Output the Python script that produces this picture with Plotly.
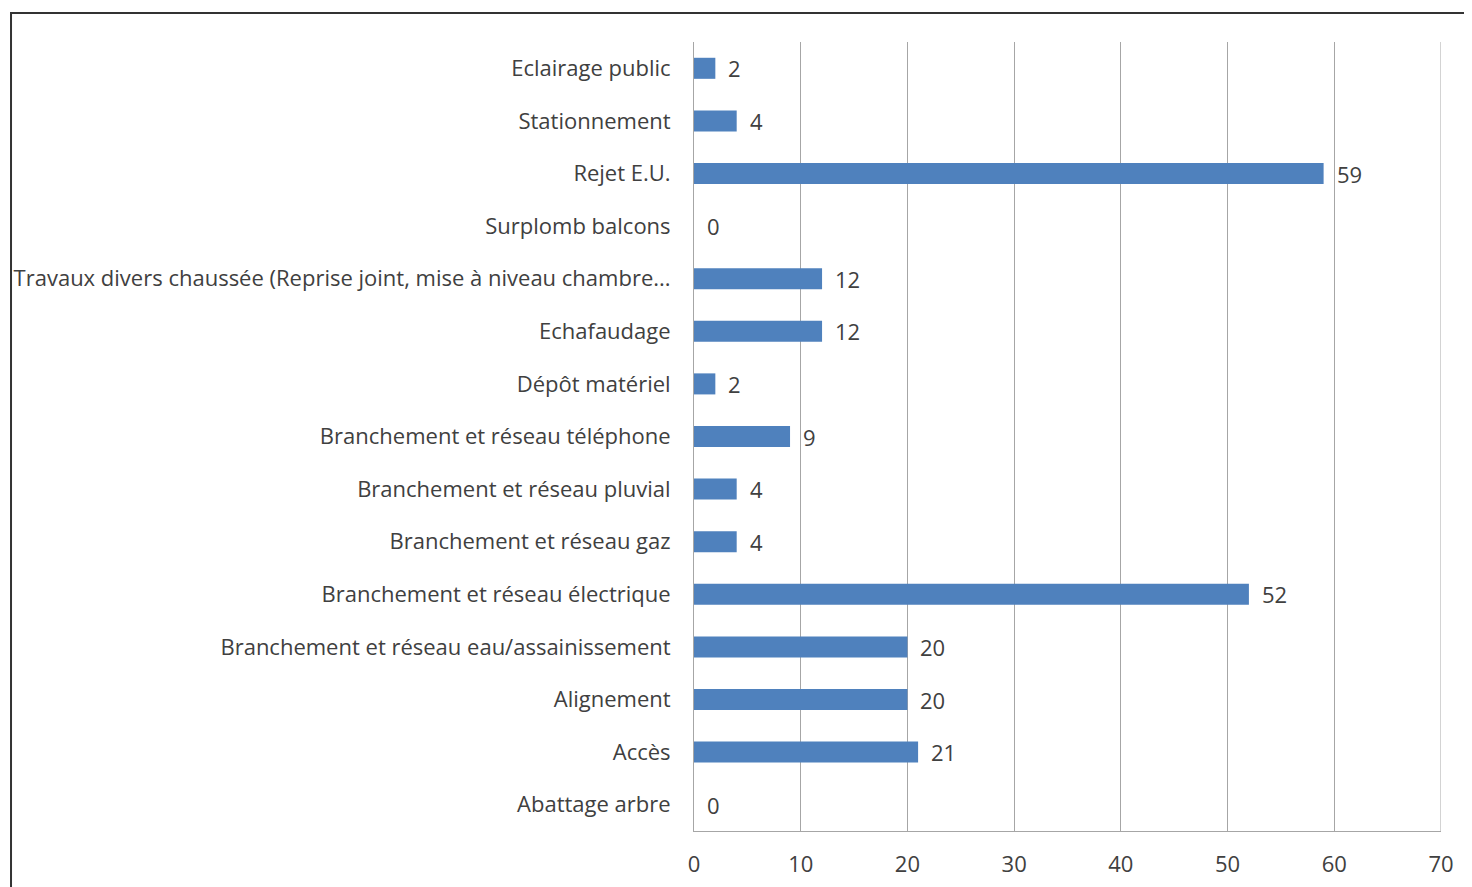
import plotly.graph_objects as go

# catégories de bas en haut (ordre de l'axe y)
categories = [
    "Abattage arbre",
    "Accès",
    "Alignement",
    "Branchement et réseau eau/assainissement",
    "Branchement et réseau électrique",
    "Branchement et réseau gaz",
    "Branchement et réseau pluvial",
    "Branchement et réseau téléphone",
    "Dépôt matériel",
    "Echafaudage",
    "Travaux divers chaussée (Reprise joint, mise à niveau chambre...",
    "Surplomb balcons",
    "Rejet E.U.",
    "Stationnement",
    "Eclairage public",
]
values = [0, 21, 20, 20, 52, 4, 4, 9, 2, 12, 12, 0, 59, 4, 2]
x_ticks = [0, 10, 20, 30, 40, 50, 60, 70]
x_max = 70

FONT = "'Open Sans', Lato, sans-serif"
TEXT = "#404040"
GRID = "#a6a6a6"

fig = go.Figure(
    go.Bar(
        x=values,
        y=categories,
        orientation="h",
        marker=dict(color="#4f81bd", line=dict(width=0)),
        hoverinfo="x+y",
    )
)

# étiquettes de valeur, décalées à droite de la barre
for cat, v in zip(categories, values):
    fig.add_annotation(
        x=v, y=cat, text=str(v),
        xref="x", yref="y",
        showarrow=False, xanchor="left", xshift=11,
        font=dict(family=FONT, size=22, color=TEXT),
    )

fig.update_xaxes(
    range=[0, x_max],
    tickvals=x_ticks,
    showgrid=True,
    gridcolor=GRID,
    gridwidth=1,
    showline=True,
    linecolor=GRID,
    linewidth=1,
    zeroline=False,
    ticks="",
    automargin=False,
    ticklabelstandoff=14,
    tickfont=dict(family=FONT, size=22, color=TEXT),
)
fig.update_yaxes(
    type="category",
    categoryorder="array",
    categoryarray=categories,
    showgrid=False,
    showline=True,
    linecolor=GRID,
    linewidth=1,
    ticks="",
    automargin=False,
    ticklabelstandoff=18,
    tickfont=dict(family=FONT, size=22, color=TEXT),
)

# dernière ligne de grille (bord droit à 70)
fig.add_shape(
    type="line", xref="x", yref="paper",
    x0=x_max, x1=x_max, y0=0, y1=1,
    line=dict(color=GRID, width=1),
)

# cadre du graphique (coordonnées relatives à la zone de tracé)
fig.add_shape(
    type="rect",
    xref="paper", yref="paper",
    x0=-0.9143, x1=1.06, y0=-0.09, y1=1.0368,
    line=dict(color="#333333", width=2),
    fillcolor="rgba(0,0,0,0)",
    layer="below",
)

fig.update_layout(
    width=1464,
    height=879,
    bargap=0.6,
    showlegend=False,
    paper_bgcolor="#ffffff",
    plot_bgcolor="#ffffff",
    margin=dict(l=686, r=31, t=34, b=56, autoexpand=False),
    font=dict(family=FONT, size=22, color=TEXT),
)

fig.write_html("out.html")
